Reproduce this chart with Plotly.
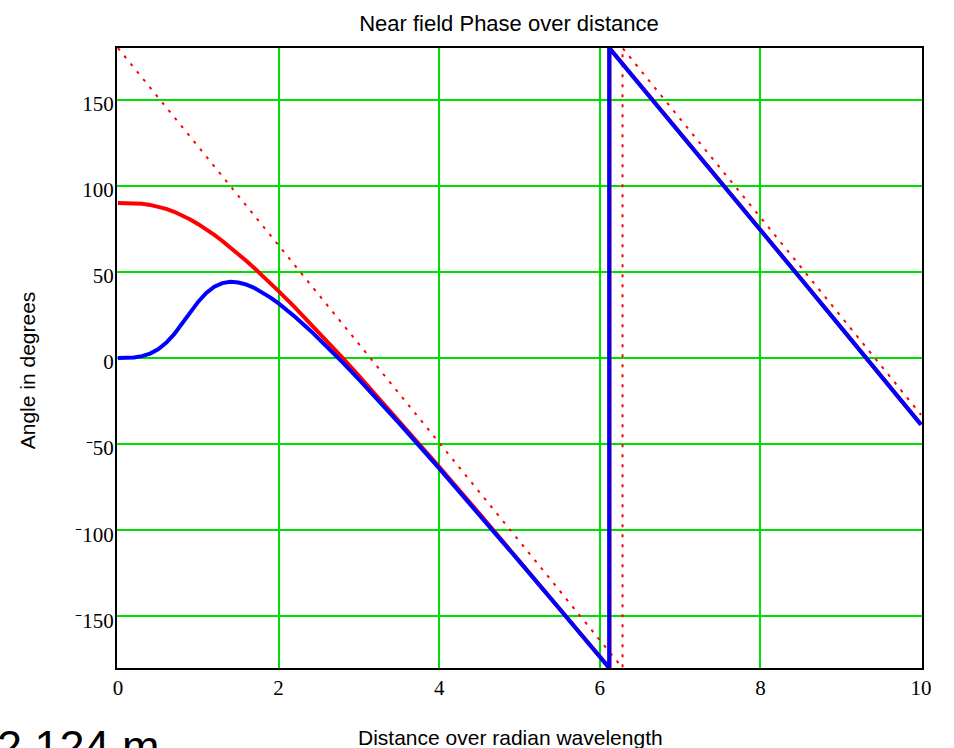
import plotly.graph_objects as go

# Distance over radian wavelength (kr) sampled up to the phase wrap
distance = [0.0, 0.1, 0.2, 0.3, 0.4, 0.5, 0.6, 0.7, 0.8, 0.9, 1.0,
            1.1, 1.2, 1.3, 1.4, 1.5, 1.6, 1.7, 1.8, 1.9, 2.0,
            2.2, 2.4, 2.6, 2.8, 3.0, 3.5, 4.0, 4.5, 5.0, 5.5, 6.0, 6.1]

# Phase (degrees) of the radial-type term (red) and the transverse term (blue)
red_phase = [90.0, 89.98, 89.85, 89.51, 88.88, 87.92, 86.58, 84.88, 82.82, 80.42, 77.70,
             74.70, 71.44, 67.95, 64.25, 60.37, 56.32, 52.13, 47.82, 43.38, 38.84,
             29.51, 19.87, 9.99, -0.08, -10.32, -36.49, -63.22, -90.36, -117.79, -145.43,
             -173.23, -178.82]
blue_phase = [0.0, 0.04, 0.31, 1.06, 2.54, 5.04, 8.77, 13.81, 19.93, 26.51, 32.70,
              37.78, 41.39, 43.48, 44.23, 43.87, 42.60, 40.63, 38.08, 35.08, 31.72,
              24.14, 15.73, 6.74, -2.69, -12.45, -37.82, -64.11, -90.99, -118.25, -145.78,
              -173.50, -179.07]

# Where each curve wraps from -180 to +180 degrees
red_wrap = 6.121
blue_wrap = 6.117

# Samples after the wrap
distance_tail = [6.5, 7.0, 7.5, 8.0, 8.5, 9.0, 9.5, 10.0]
red_tail = [158.83, 130.80, 102.69, 74.50, 46.28, 18.00, -10.32, -38.67]
blue_tail = [158.63, 130.63, 102.55, 74.39, 46.19, 17.92, -10.39, -38.73]

# Far-field reference phase (dotted), wrapping at 2*pi
far_distance = [0.0, 6.283, 6.283, 10.0]
far_phase = [180.0, -180.0, 180.0, -32.96]

x_ticks = [0, 2, 4, 6, 8, 10]
y_ticks = [-150, -100, -50, 0, 50, 100, 150]
y_tick_text = ["⁻150", "⁻100", "⁻50", "0", "50", "100", "150"]

fig = go.Figure()

fig.add_trace(go.Scatter(
    x=far_distance, y=far_phase, mode="lines",
    line=dict(color="#ff0000", width=2, dash="3px,7px"),
    name="far field", showlegend=False,
))
fig.add_trace(go.Scatter(
    x=distance + [red_wrap, red_wrap] + distance_tail,
    y=red_phase + [-180.0, 180.0] + red_tail,
    mode="lines", line=dict(color="#ff0000", width=4),
    name="red", showlegend=False,
))
fig.add_trace(go.Scatter(
    x=distance + [blue_wrap, blue_wrap] + distance_tail,
    y=blue_phase + [-180.0, 180.0] + blue_tail,
    mode="lines", line=dict(color="#0000ff", width=4),
    name="blue", showlegend=False,
))

tick_font = dict(family="Liberation Serif, Times New Roman, serif", size=21, color="black")
sans = "Liberation Sans, Arial, sans-serif"

fig.update_xaxes(
    range=[-0.012, 10.012], tickvals=x_ticks, ticktext=[str(t) for t in x_ticks],
    showgrid=True, gridcolor="#00e000", gridwidth=2, zeroline=False,
    showline=True, linecolor="black", linewidth=2, mirror=True,
    ticks="", ticklen=0, tickfont=tick_font, ticklabelstandoff=0,
)
fig.update_yaxes(
    range=[-180, 180], tickvals=y_ticks, ticktext=y_tick_text,
    showgrid=True, gridcolor="#00e000", gridwidth=2, zeroline=False,
    showline=True, linecolor="black", linewidth=2, mirror=True,
    ticks="", ticklen=0, tickfont=tick_font, ticklabelstandoff=-3, ticklabelshift=4,
)

fig.update_layout(
    width=954, height=748,
    margin=dict(l=117, r=32, t=48, b=80),
    paper_bgcolor="white", plot_bgcolor="white",
    title=dict(text="Near field Phase over distance", x=509 / 954, y=1 - 23 / 748,
               xref="container", yref="container", xanchor="center", yanchor="middle",
               font=dict(family=sans, size=22, color="black")),
    annotations=[
        dict(text="Distance over radian wavelength", xref="paper", yref="paper",
             x=0.489, y=-0.1129, xanchor="center", yanchor="middle", showarrow=False,
             font=dict(family=sans, size=21, color="black")),
        dict(text="Angle in degrees", xref="paper", yref="paper", textangle=-90,
             x=-0.1115, y=0.4806, xanchor="center", yanchor="middle", showarrow=False,
             font=dict(family=sans, size=21, color="black")),
        dict(text="2.124 m", xref="paper", yref="paper",
             x=-0.1513, y=-0.0823, xanchor="left", yanchor="top", showarrow=False,
             font=dict(family=sans, size=45, color="black")),
    ],
)

fig.write_html("out.html")
